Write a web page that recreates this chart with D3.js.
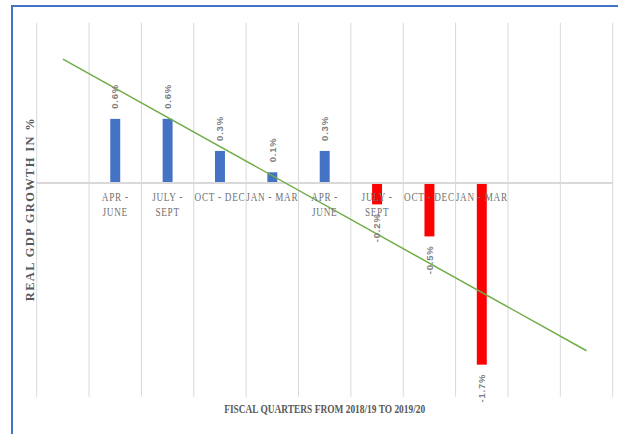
<!DOCTYPE html>
<html>
<head>
<meta charset="utf-8">
<script src="https://cdn.jsdelivr.net/npm/d3@7"></script>
<style>
  html, body { margin: 0; padding: 0; background: #fff; }
  svg { display: block; }
</style>
</head>
<body>
<div id="chart"></div>
<script>
// ---- data ----
const categories = ["", "APR - JUNE", "JULY - SEPT", "OCT - DEC", "JAN - MAR",
                    "APR - JUNE", "JULY - SEPT", "OCT - DEC", "JAN - MAR", "", ""];
const growth = [null, 0.6, 0.6, 0.3, 0.1, 0.3, -0.2, -0.5, -1.7, null, null];
const valueLabels = ["", "0.6%", "0.6%", "0.3%", "0.1%", "0.3%", "-0.2%", "-0.5%", "-1.7%", "", ""];
const trendIndex = [0, 10];
const trendValues = [1.16, -1.57];
const yDomain = [-2, 1.5];
const yTitle = "REAL GDP GROWTH IN %";
const xTitle = "FISCAL QUARTERS FROM 2018/19 TO 2019/20";

// ---- layout ----
const W = 618, H = 434;
const plot = { left: 36.7, right: 612.7, top: 22.7, bottom: 396.7 };

const svg = d3.select("#chart").append("svg").attr("width", W).attr("height", H);
svg.append("rect").attr("width", W).attr("height", H).attr("fill", "#fff");

// frame
svg.append("rect").attr("x", 12).attr("y", 6).attr("width", W + 10).attr("height", H + 10)
  .attr("fill", "#fff").attr("stroke", "#4472c4").attr("stroke-width", 2);

const idx = categories.map((d, i) => i);
const x = d3.scaleBand().domain(idx).range([plot.left, plot.right]).padding(0);
const y = d3.scaleLinear().domain(yDomain).range([plot.bottom, plot.top]);

// vertical gridlines at band edges
const edges = idx.map(i => x(i)).concat([plot.right]);
svg.append("g").selectAll("line").data(edges).join("line")
  .attr("x1", d => d).attr("x2", d => d)
  .attr("y1", plot.top).attr("y2", plot.bottom)
  .attr("stroke", "#d9d9d9").attr("stroke-width", 1);

// bars
const barW = x.bandwidth() * 0.19;
const barData = idx.filter(i => growth[i] !== null);
svg.append("g").selectAll("rect").data(barData).join("rect")
  .attr("x", i => x(i) + x.bandwidth() / 2 - barW / 2)
  .attr("width", barW)
  .attr("y", i => y(Math.max(0, growth[i])))
  .attr("height", i => Math.abs(y(growth[i]) - y(0)))
  .attr("fill", i => growth[i] >= 0 ? "#4472c4" : "#ff0000");

// zero axis line
svg.append("line")
  .attr("x1", plot.left).attr("x2", plot.right)
  .attr("y1", y(0)).attr("y2", y(0))
  .attr("stroke", "#d9d9d9").attr("stroke-width", 2);

// trendline
const line = d3.line().x(d => x(d[0]) + x.bandwidth() / 2).y(d => y(d[1]));
svg.append("path")
  .datum(trendIndex.map((t, k) => [t, trendValues[k]]))
  .attr("d", line).attr("fill", "none")
  .attr("stroke", "#70ad47").attr("stroke-width", 1.5);

// category labels (condensed serif)
const catG = svg.append("g")
  .attr("font-family", "'Liberation Serif', 'Times New Roman', serif")
  .attr("font-size", 11.5).attr("fill", "#6f6f6f")
  .attr("letter-spacing", 0.9).attr("text-anchor", "middle");
idx.forEach(i => {
  const c = categories[i];
  if (!c) return;
  const lines = c.length > 9 ? [c.slice(0, c.indexOf(" - ") + 2), c.slice(c.indexOf(" - ") + 3)] : [c];
  const t = catG.append("text")
    .attr("transform", `translate(${x(i) + x.bandwidth() / 2},${y(0) + 18.5}) scale(0.8,1)`);
  lines.forEach((l, k) => {
    t.append("tspan").attr("x", 0).attr("dy", k === 0 ? 0 : 15).text(l);
  });
});

// data labels (rotated)
svg.append("g").selectAll("text").data(barData).join("text")
  .attr("transform", i => {
    const cx = x(i) + x.bandwidth() / 2 + 3.2;
    const cy = growth[i] >= 0 ? y(growth[i]) - 10 : y(growth[i]) + 9;
    return `translate(${cx},${cy}) rotate(-90)`;
  })
  .attr("text-anchor", i => growth[i] >= 0 ? "start" : "end")
  .attr("font-family", "'Liberation Sans', Arial, sans-serif")
  .attr("font-size", 9.5).attr("font-weight", "bold").attr("letter-spacing", 0.8)
  .attr("fill", "#7f7f7f")
  .text(i => valueLabels[i]);

// axis titles
svg.append("text")
  .attr("transform", `translate(33.5,${(plot.top + plot.bottom) / 2}) rotate(-90)`)
  .attr("text-anchor", "middle")
  .attr("font-family", "'Liberation Serif', 'Times New Roman', serif")
  .attr("font-weight", "bold").attr("font-size", 12.5).attr("fill", "#595959")
  .attr("textLength", 183).attr("lengthAdjust", "spacing")
  .text(yTitle);

svg.append("text")
  .attr("x", (plot.left + plot.right) / 2).attr("y", 413)
  .attr("text-anchor", "middle")
  .attr("font-family", "'Liberation Serif', 'Times New Roman', serif")
  .attr("font-weight", "bold").attr("font-size", 13.5).attr("fill", "#595959")
  .attr("textLength", 201).attr("lengthAdjust", "spacingAndGlyphs")
  .text(xTitle);
</script>
</body>
</html>
